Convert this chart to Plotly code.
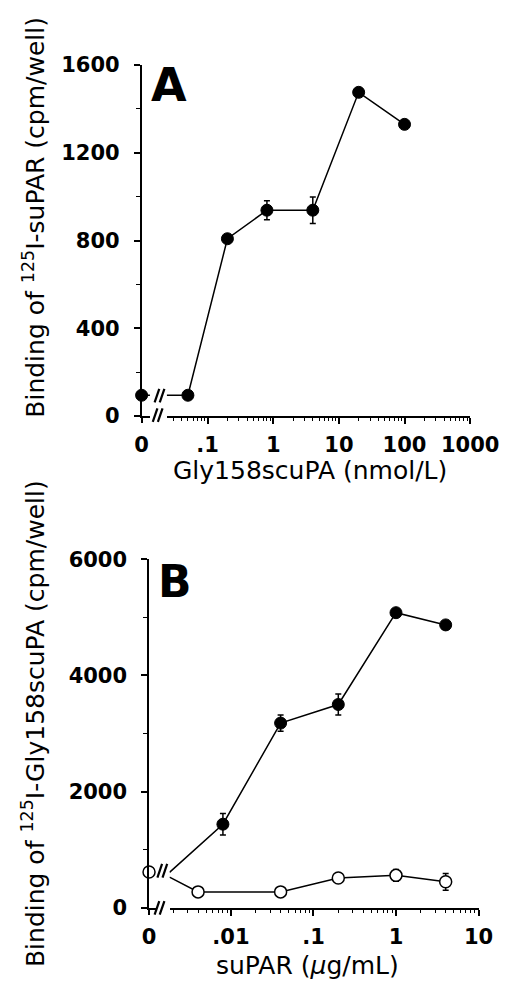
import math
import plotly.graph_objects as go

W, H = 520, 986


def px(x):
    return x / W


def py(y):
    return 1 - y / H


# ---------------- Panel A data ----------------
A_ZERO_VALUE = 95                      # binding at 0 nmol/L
A_CONC = [0.05, 0.2, 0.8, 4, 20, 100]  # nmol/L
A_BIND = [95, 808, 938, 938, 1475, 1329]
A_ERR = [0, 0, 43, 60, 0, 20]
A_XTICKS = [0.1, 1, 10, 100, 1000]
A_XTICKTEXT = [".1", "1", "10", "100", "1000"]
A_YTICKS = [0, 400, 800, 1200, 1600]
A_YMINOR = [200, 600, 1000, 1400]

# ---------------- Panel B data ----------------
B_ZERO_OPEN = 616                      # open circle at 0 ug/mL
B_FILLED_EDGE = 610                    # filled line value at the axis break
B_OPEN_EDGE = 530                      # open line value at the axis break
B_FILLED_CONC = [0.008, 0.04, 0.2, 1, 4]
B_FILLED = [1440, 3180, 3500, 5080, 4870]
B_FILLED_ERR = [185, 140, 182, 0, 0]
B_OPEN_CONC = [0.004, 0.04, 0.2, 1, 4]
B_OPEN = [275, 275, 515, 559, 448]
B_OPEN_ERR = [0, 0, 0, 100, 145]
B_XTICKS = [0.01, 0.1, 1, 10]
B_XTICKTEXT = [".01", ".1", "1", "10"]
B_YTICKS = [0, 2000, 4000, 6000]
B_YMINOR = [1000, 3000, 5000]

# ---------------- layout constants ----------------
A_LOG_RANGE = [-1.624, 3]
B_LOG_RANGE = [-2.744, 1]
ZERO_RANGE = [0, 9]

FONT = "DejaVu Sans"
BLACK = "black"
tickfont = dict(family=FONT, size=21, color=BLACK, weight="bold")


def minor_log_vals(lo, hi):
    vals = []
    for d in range(math.floor(lo), math.ceil(hi) + 1):
        for m in range(2, 10):
            v = m * 10 ** d
            if 10 ** lo <= v <= 10 ** hi:
                vals.append(v)
    return vals


fig = go.Figure()

marker_f = dict(size=12, color=BLACK, line=dict(color=BLACK, width=1))
marker_o = dict(size=12, color="white", line=dict(color=BLACK, width=1.5))
line_s = dict(color=BLACK, width=1.5)

# ---- Panel A ----
fig.add_trace(go.Scatter(x=[0, ZERO_RANGE[1]], y=[A_ZERO_VALUE, A_ZERO_VALUE],
                         mode="lines", line=line_s, xaxis="x", yaxis="y",
                         cliponaxis=False, showlegend=False))
fig.add_trace(go.Scatter(x=[10 ** A_LOG_RANGE[0]] + A_CONC, y=[A_ZERO_VALUE] + A_BIND,
                         mode="lines", line=line_s, xaxis="x2", yaxis="y",
                         cliponaxis=False, showlegend=False))
fig.add_trace(go.Scatter(x=A_CONC, y=A_BIND, mode="markers", marker=marker_f,
                         error_y=dict(type="data", array=A_ERR, color=BLACK,
                                      thickness=1.5, width=3),
                         xaxis="x2", yaxis="y", cliponaxis=False, showlegend=False))
fig.add_trace(go.Scatter(x=[0], y=[A_ZERO_VALUE], mode="markers", marker=marker_f,
                         xaxis="x", yaxis="y", cliponaxis=False, showlegend=False))

# ---- Panel B ----
fig.add_trace(go.Scatter(x=[10 ** B_LOG_RANGE[0]] + B_FILLED_CONC,
                         y=[B_FILLED_EDGE] + B_FILLED,
                         mode="lines", line=line_s, xaxis="x4", yaxis="y2",
                         cliponaxis=False, showlegend=False))
fig.add_trace(go.Scatter(x=[10 ** B_LOG_RANGE[0]] + B_OPEN_CONC,
                         y=[B_OPEN_EDGE] + B_OPEN,
                         mode="lines", line=line_s, xaxis="x4", yaxis="y2",
                         cliponaxis=False, showlegend=False))
fig.add_trace(go.Scatter(x=B_FILLED_CONC, y=B_FILLED, mode="markers", marker=marker_f,
                         error_y=dict(type="data", array=B_FILLED_ERR, color=BLACK,
                                      thickness=1.5, width=3),
                         xaxis="x4", yaxis="y2", cliponaxis=False, showlegend=False))
fig.add_trace(go.Scatter(x=B_OPEN_CONC, y=B_OPEN, mode="markers", marker=marker_o,
                         error_y=dict(type="data", array=B_OPEN_ERR, color=BLACK,
                                      thickness=1.5, width=3),
                         xaxis="x4", yaxis="y2", cliponaxis=False, showlegend=False))
fig.add_trace(go.Scatter(x=[0], y=[B_ZERO_OPEN], mode="markers", marker=marker_o,
                         xaxis="x3", yaxis="y2", cliponaxis=False, showlegend=False))

common_axis = dict(showline=True, linecolor=BLACK, linewidth=1.5, showgrid=False,
                   zeroline=False, ticks="outside", tickcolor=BLACK, tickwidth=1.5,
                   tickfont=tickfont)

zero_axis = dict(common_axis, range=ZERO_RANGE, tickvals=[0], ticktext=["0"], ticklen=5,
                 ticklabelstandoff=4, fixedrange=True)

fig.update_layout(
    width=W, height=H,
    margin=dict(l=0, r=0, t=0, b=0),
    paper_bgcolor="white", plot_bgcolor="white",
    showlegend=False,
    xaxis=dict(zero_axis, domain=[px(136), px(145)], anchor="y"),
    xaxis2=dict(common_axis, type="log", domain=[px(163), px(489)], range=A_LOG_RANGE,
                anchor="y", tickvals=A_XTICKS, ticktext=A_XTICKTEXT, ticklen=6,
                ticklabelstandoff=3,
                minor=dict(tickvals=minor_log_vals(*A_LOG_RANGE), ticks="outside",
                           ticklen=3, tickcolor=BLACK, tickwidth=1.2)),
    yaxis=dict(common_axis, domain=[py(406), py(46)], range=[0, 1600], anchor="x",
               tickvals=A_YTICKS, ticklen=6, ticklabelstandoff=10,
               minor=dict(tickvals=A_YMINOR, ticks="outside", ticklen=4,
                          tickcolor=BLACK, tickwidth=1.2)),
    xaxis3=dict(zero_axis, domain=[px(144), px(153)], anchor="y2"),
    xaxis4=dict(common_axis, type="log", domain=[px(166), px(498)], range=B_LOG_RANGE,
                anchor="y2", tickvals=B_XTICKS, ticktext=B_XTICKTEXT, ticklen=6,
                ticklabelstandoff=3,
                minor=dict(tickvals=minor_log_vals(*B_LOG_RANGE), ticks="outside",
                           ticklen=3, tickcolor=BLACK, tickwidth=1.2)),
    yaxis2=dict(common_axis, domain=[py(910), py(552.7)], range=[0, 6000], anchor="x3",
                tickvals=B_YTICKS, ticklen=6, ticklabelstandoff=10,
                minor=dict(tickvals=B_YMINOR, ticks="outside", ticklen=4,
                           tickcolor=BLACK, tickwidth=1.2)),
)

title_font = dict(family=FONT, size=25, color=BLACK)
ann = []
# axis titles
ann.append(dict(text="Gly158scuPA (nmol/L)", x=px(317), y=py(462), xref="paper", yref="paper",
                showarrow=False, font=title_font, xanchor="center", yanchor="middle"))
ann.append(dict(text="suPAR (<i>μ</i>g/mL)", x=px(314), y=py(969), xref="paper", yref="paper",
                showarrow=False, font=title_font, xanchor="center", yanchor="middle"))
ann.append(dict(text="Binding of <sup>125</sup>I-suPAR (cpm/well)", x=px(20), y=py(202),
                xref="paper", yref="paper", showarrow=False, font=title_font,
                textangle=-90, xanchor="center", yanchor="middle"))
ann.append(dict(text="Binding of <sup>125</sup>I-Gly158scuPA (cpm/well)", x=px(20), y=py(721),
                xref="paper", yref="paper", showarrow=False, font=title_font,
                textangle=-90, xanchor="center", yanchor="middle"))
# panel letters
ann.append(dict(text="A", x=px(165), y=py(67), xref="paper", yref="paper", showarrow=False,
                font=dict(family=FONT, size=46, color=BLACK, weight="bold"),
                xanchor="center", yanchor="middle"))
ann.append(dict(text="B", x=px(172), y=py(576), xref="paper", yref="paper", showarrow=False,
                font=dict(family=FONT, size=44, color=BLACK, weight="bold"),
                xanchor="center", yanchor="middle"))
fig.update_layout(annotations=ann)

# axis / line break marks ("//"), drawn as pairs of short slanted strokes
shapes = []
BREAKS = [(148, 405), (150, 385), (150, 910), (153, 872)]  # left x, centre y (px)
for (bx, by) in BREAKS:
    for off in (0, 5.5):
        shapes.append(dict(type="line", xref="paper", yref="paper",
                           x0=px(bx + off), y0=py(by + 7), x1=px(bx + off + 5), y1=py(by - 7),
                           line=dict(color=BLACK, width=2.2)))
fig.update_layout(shapes=shapes)

fig.write_html("out.html")
